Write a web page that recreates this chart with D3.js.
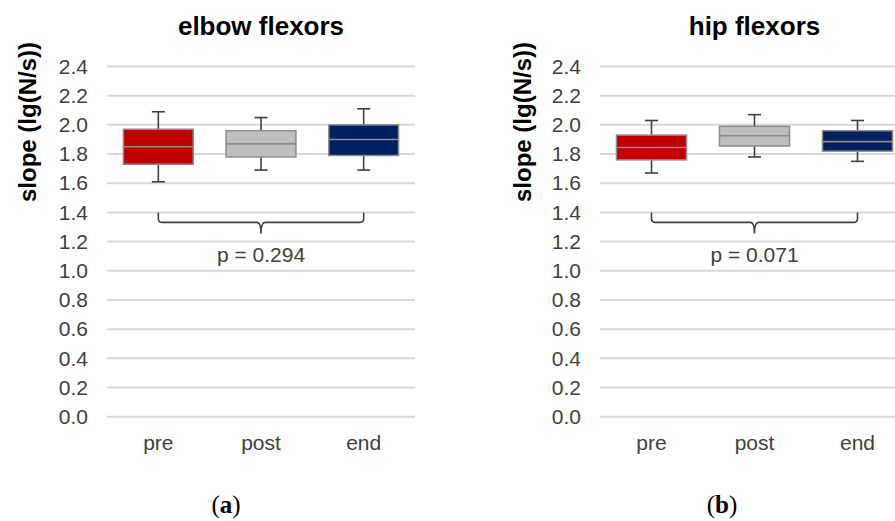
<!DOCTYPE html>
<html>
<head>
<meta charset="utf-8">
<script src="https://cdn.jsdelivr.net/npm/d3@7"></script>
<style>
  body { margin: 0; background: #fff; }
  svg { display: block; }
</style>
</head>
<body>
<div id="chart"></div>
<script>
// categories and colours
const categories = ["pre", "post", "end"];
const boxColors = ["#c00000", "#bfbfbf", "#002060"];
const yTicks = [0, 0.2, 0.4, 0.6, 0.8, 1.0, 1.2, 1.4, 1.6, 1.8, 2.0, 2.2, 2.4];

// elbow flexors (a)
const elbowMin = [1.61, 1.69, 1.69];
const elbowQ1  = [1.73, 1.78, 1.79];
const elbowMed = [1.85, 1.87, 1.90];
const elbowQ3  = [1.97, 1.96, 2.00];
const elbowMax = [2.09, 2.05, 2.11];
const elbowP = "p = 0.294";

// hip flexors (b)
const hipMin = [1.67, 1.78, 1.75];
const hipQ1  = [1.76, 1.855, 1.82];
const hipMed = [1.845, 1.925, 1.885];
const hipQ3  = [1.93, 1.99, 1.96];
const hipMax = [2.03, 2.07, 2.03];
const hipP = "p = 0.071";

const width = 895, height = 521;

const svg = d3.select("#chart").append("svg")
    .attr("width", width).attr("height", height);

function drawPanel(opts) {
    const g = svg.append("g");
    const x = d3.scaleBand().domain(categories).range([opts.left, opts.right]);
    const y = d3.scaleLinear().domain([0, 2.4]).range([416.7, 66.5]);

    const rows = categories.map((c, i) => ({
        cat: c, min: opts.min[i], q1: opts.q1[i], med: opts.med[i],
        q3: opts.q3[i], max: opts.max[i], color: boxColors[i]
    }));

    // gridlines
    g.selectAll(".grid").data(yTicks).enter().append("line")
        .attr("x1", opts.left).attr("x2", opts.right)
        .attr("y1", d => y(d)).attr("y2", d => y(d))
        .attr("stroke", "#d9d9d9").attr("stroke-width", 2);

    // y axis labels
    const yAxis = d3.axisLeft(y).tickValues(yTicks).tickFormat(d3.format(".1f")).tickSize(0).tickPadding(19);
    const ya = g.append("g").attr("transform", `translate(${opts.left},0)`).call(yAxis);
    ya.select(".domain").remove();
    ya.selectAll("text").attr("font-family", "Liberation Sans, Arial, sans-serif")
        .attr("font-size", 21).attr("fill", "#404040");

    // x axis labels
    const xAxis = d3.axisBottom(x).tickSize(0).tickPadding(18);
    const xa = g.append("g").attr("transform", `translate(0,${y(0)})`).call(xAxis);
    xa.select(".domain").remove();
    xa.selectAll("text").attr("font-family", "Liberation Sans, Arial, sans-serif")
        .attr("font-size", 21).attr("fill", "#404040");

    const bw = x.bandwidth() * 0.68;
    const cx = d => x(d.cat) + x.bandwidth() / 2;
    const capW = 13;

    // whiskers
    const wk = g.append("g").attr("stroke", "#404040").attr("stroke-width", 1.6);
    wk.selectAll(".vline").data(rows).enter().append("line")
        .attr("x1", cx).attr("x2", cx)
        .attr("y1", d => y(d.min)).attr("y2", d => y(d.max));
    wk.selectAll(".capTop").data(rows).enter().append("line")
        .attr("x1", d => cx(d) - capW / 2).attr("x2", d => cx(d) + capW / 2)
        .attr("y1", d => y(d.max)).attr("y2", d => y(d.max));
    wk.selectAll(".capBot").data(rows).enter().append("line")
        .attr("x1", d => cx(d) - capW / 2).attr("x2", d => cx(d) + capW / 2)
        .attr("y1", d => y(d.min)).attr("y2", d => y(d.min));

    // boxes
    g.selectAll(".box").data(rows).enter().append("rect")
        .attr("x", d => cx(d) - bw / 2).attr("width", bw)
        .attr("y", d => y(d.q3)).attr("height", d => y(d.q1) - y(d.q3))
        .attr("fill", d => d.color)
        .attr("stroke", "#8c8c8c").attr("stroke-width", 1.5);

    // medians
    g.selectAll(".med").data(rows).enter().append("line")
        .attr("x1", d => cx(d) - bw / 2).attr("x2", d => cx(d) + bw / 2)
        .attr("y1", d => y(d.med)).attr("y2", d => y(d.med))
        .attr("stroke", "#8c8c8c").attr("stroke-width", 1.6);

    // brace under the boxes
    const bx1 = x(categories[0]) + x.bandwidth() / 2;
    const bx2 = x(categories[2]) + x.bandwidth() / 2;
    const by0 = y(1.4), by1 = by0 + 10, by2 = by0 + 21, r = 4;
    const mid = (bx1 + bx2) / 2;
    const p = d3.path();
    p.moveTo(bx1, by0);
    p.lineTo(bx1, by1 - r);
    p.quadraticCurveTo(bx1, by1, bx1 + r, by1);
    p.lineTo(mid - 4, by1);
    p.quadraticCurveTo(mid, by1, mid, by2);
    p.quadraticCurveTo(mid, by1, mid + 4, by1);
    p.lineTo(bx2 - r, by1);
    p.quadraticCurveTo(bx2, by1, bx2, by1 - r);
    p.lineTo(bx2, by0);
    g.append("path").attr("d", p.toString())
        .attr("fill", "none").attr("stroke", "#404040").attr("stroke-width", 1.6);

    g.append("text").attr("x", mid).attr("y", by0 + 50)
        .attr("text-anchor", "middle")
        .attr("font-family", "Liberation Sans, Arial, sans-serif")
        .attr("font-size", 21).attr("fill", "#404040")
        .text(opts.p);

    // title
    g.append("text").attr("x", (opts.left + opts.right) / 2).attr("y", 35)
        .attr("text-anchor", "middle")
        .attr("font-family", "Liberation Sans, Arial, sans-serif")
        .attr("font-weight", "bold").attr("font-size", 26).attr("fill", "#000")
        .text(opts.title);

    // y label
    g.append("text")
        .attr("transform", `translate(${opts.ylabX},122) rotate(-90)`)
        .attr("text-anchor", "middle")
        .attr("font-family", "Liberation Sans, Arial, sans-serif")
        .attr("font-weight", "bold").attr("font-size", 24).attr("fill", "#000")
        .text("slope (lg(N/s))");

    // caption
    const cap = g.append("text").attr("x", opts.capX).attr("y", 513)
        .attr("text-anchor", "middle")
        .attr("font-family", "Liberation Serif, 'DejaVu Serif', serif")
        .attr("font-size", 25).attr("fill", "#000");
    cap.append("tspan").text("(");
    cap.append("tspan").attr("font-weight", "bold").text(opts.letter);
    cap.append("tspan").text(")");
}

drawPanel({
    left: 107, right: 415, ylabX: 36, capX: 226,
    min: elbowMin, q1: elbowQ1, med: elbowMed, q3: elbowQ3, max: elbowMax,
    p: elbowP, title: "elbow flexors", letter: "a"
});
drawPanel({
    left: 600, right: 909, ylabX: 531, capX: 722,
    min: hipMin, q1: hipQ1, med: hipMed, q3: hipQ3, max: hipMax,
    p: hipP, title: "hip flexors", letter: "b"
});
</script>
</body>
</html>
